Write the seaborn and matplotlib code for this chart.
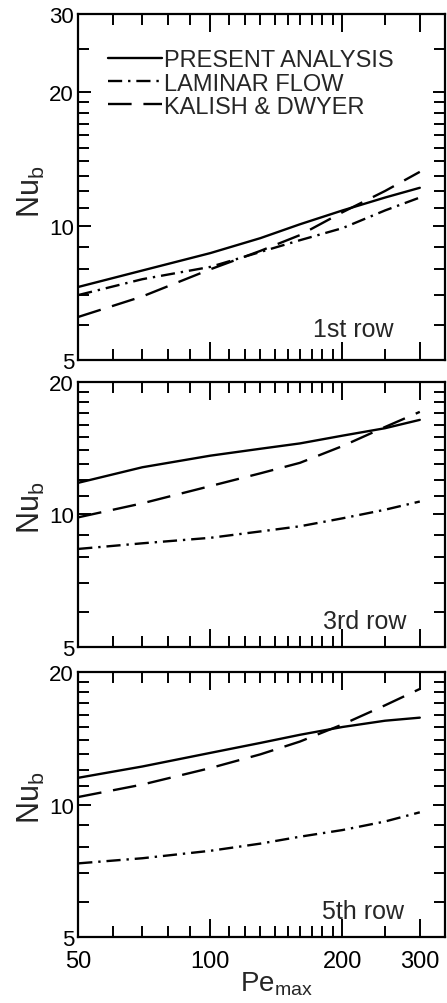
import numpy as np
import pandas as pd
import seaborn as sns
import matplotlib.pyplot as plt
from matplotlib.lines import Line2D
from matplotlib.ticker import FixedLocator, NullFormatter, FixedFormatter

pe = [50, 70, 100, 130, 160, 200, 250, 300]

# 1st row
row1_present = [7.3, 7.95, 8.7, 9.4, 10.1, 10.85, 11.6, 12.2]
row1_laminar = [7.0, 7.6, 8.1, 8.75, 9.3, 9.9, 10.85, 11.6]
row1_kalish = [6.25, 6.95, 8.0, 8.8, 9.55, 10.75, 12.0, 13.25]

# 3rd row
row3_present = [11.8, 12.8, 13.6, 14.1, 14.5, 15.1, 15.7, 16.4]
row3_laminar = [8.35, 8.6, 8.85, 9.15, 9.4, 9.8, 10.25, 10.7]
row3_kalish = [9.85, 10.6, 11.6, 12.4, 13.1, 14.3, 15.8, 17.1]

# 5th row
row5_present = [11.5, 12.2, 13.1, 13.8, 14.4, 15.0, 15.5, 15.75]
row5_laminar = [7.35, 7.55, 7.85, 8.15, 8.45, 8.75, 9.15, 9.6]
row5_kalish = [10.4, 11.1, 12.1, 13.0, 13.9, 15.2, 16.8, 18.3]

labels = ["PRESENT ANALYSIS", "LAMINAR FLOW", "KALISH & DWYER"]
row_names = ["1st row", "3rd row", "5th row"]
rows = [
    [row1_present, row1_laminar, row1_kalish],
    [row3_present, row3_laminar, row3_kalish],
    [row5_present, row5_laminar, row5_kalish],
]
ylims = [(5, 30), (5, 20), (5, 20)]
ymajor = [[5, 10, 20, 30], [5, 10, 20], [5, 10, 20]]
x_major = [50, 100, 200, 300]
x_minor = [60, 70, 80, 90, 110, 120, 130, 140, 150, 160, 170, 180, 190, 250]

dash_map = {
    "PRESENT ANALYSIS": "",
    "LAMINAR FLOW": (6, 2.5, 1, 2.5),
    "KALISH & DWYER": (10, 5),
}

sns.set_style("ticks")
plt.rcParams['font.family'] = ['Liberation Sans', 'DejaVu Sans']
plt.rcParams['mathtext.fontset'] = 'custom'
plt.rcParams['mathtext.rm'] = 'Liberation Sans'

fig = plt.figure(figsize=(4.47, 10.04), dpi=100)
positions = [
    [0.175, 0.6404, 0.820, 0.3446],
    [0.175, 0.3546, 0.820, 0.2640],
    [0.175, 0.0657, 0.820, 0.2640],
]
label_x = [0.86, 0.895, 0.89]
ylab_y = [0.49, 0.53, 0.53]

for i, (series, pos) in enumerate(zip(rows, positions)):
    ax = fig.add_axes(pos)
    df = pd.DataFrame({
        "pe": pe * 3,
        "nu": series[0] + series[1] + series[2],
        "curve": [labels[0]] * len(pe) + [labels[1]] * len(pe) + [labels[2]] * len(pe),
    })
    sns.lineplot(data=df, x="pe", y="nu", style="curve", style_order=labels,
                 dashes=dash_map, color="black", linewidth=1.7, legend=False, ax=ax)
    ax.set_xscale("log")
    ax.set_yscale("log")
    ax.set_xlim(50, 342)
    ax.set_ylim(*ylims[i])

    ax.xaxis.set_major_locator(FixedLocator(x_major))
    ax.xaxis.set_minor_locator(FixedLocator(x_minor))
    ax.xaxis.set_minor_formatter(NullFormatter())
    if i == 2:
        ax.xaxis.set_major_formatter(FixedFormatter([str(v) for v in x_major]))
        ax.set_xlabel(r"Pe$_\mathregular{max}$", fontsize=20)
        ax.xaxis.set_label_coords(0.54, -0.12)
    else:
        ax.xaxis.set_major_formatter(NullFormatter())
        ax.set_xlabel("")

    lo, hi = ylims[i]
    ax.yaxis.set_major_locator(FixedLocator(ymajor[i]))
    ax.yaxis.set_major_formatter(FixedFormatter([str(v) for v in ymajor[i]]))
    yminor = [v for v in list(range(6, 20)) + [25] if lo < v < hi and v not in ymajor[i]]
    ax.yaxis.set_minor_locator(FixedLocator(yminor))
    ax.yaxis.set_minor_formatter(NullFormatter())

    ax.tick_params(which="both", direction="in", top=True, right=True, width=1.4, colors="black")
    ax.tick_params(axis="x", which="major", length=13, labelsize=17, pad=9)
    ax.tick_params(axis="x", which="minor", length=8)
    ax.tick_params(axis="y", which="major", length=9, labelsize=16, pad=3)
    ax.tick_params(axis="y", which="minor", length=8)
    for s in ax.spines.values():
        s.set_linewidth(1.6)
        s.set_color("black")

    ax.set_ylabel(r"Nu$_\mathregular{b}$", fontsize=22)
    ax.yaxis.set_label_coords(-0.085, ylab_y[i])

    ax.text(label_x[i], 0.07, row_names[i], transform=ax.transAxes, ha="right",
            va="baseline", fontsize=18)

    if i == 0:
        handles = [Line2D([], [], color="black", linewidth=1.7,
                          dashes=dash_map[l] if dash_map[l] else (None, None))
                   for l in labels]
        ax.legend(handles, labels, loc="upper left", bbox_to_anchor=(0.08, 0.898),
                  frameon=False, fontsize=17, handlelength=2.3, handletextpad=0.1,
                  labelspacing=0.05, borderpad=0, borderaxespad=0)

fig.savefig("out.png", dpi=100)
